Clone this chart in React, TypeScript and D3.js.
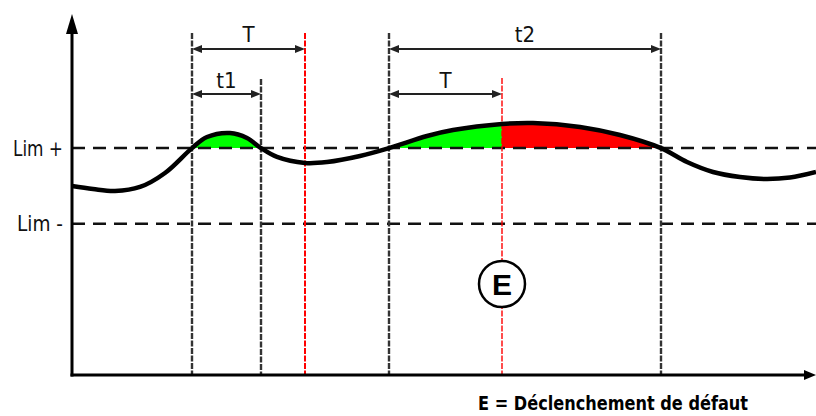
import React from "react";
import * as d3 from "d3";

// time (arbitrary units) and signal value
const curveTimes = [0, 21, 43, 68, 93, 120, 135, 158, 175, 189, 205, 233, 255, 288, 317, 355, 381, 430, 461, 508, 548, 589, 615, 641, 668, 693, 718, 744];
const curveValues = [2.499, 2.459, 2.433, 2.486, 2.671, 3.0, 3.147, 3.2, 3.134, 3.0, 2.883, 2.803, 2.816, 2.896, 3.0, 3.16, 3.239, 3.319, 3.332, 3.28, 3.173, 3.0, 2.816, 2.684, 2.618, 2.592, 2.611, 2.684];

const limPlus = 3;
const limMinus = 2;
const limLabels = ["Lim +", "Lim -"];

// event times
const tStart1 = 120;
const tEnd1 = 189;
const tTrip1 = 233; // tStart1 + T (no trip: red dashed)
const tStart2 = 317;
const tTrip2 = 430; // tStart2 + T
const tEnd2 = 589;

const greenSpans = [[tStart1, tEnd1], [tStart2, tTrip2]];
const redSpans = [[tTrip2, tEnd2]];

const footer = "E = Déclenchement de défaut";

const W = 816;
const H = 416;
const FONT = "'DejaVu Sans Condensed', 'Liberation Sans Narrow', 'Liberation Sans', Arial, sans-serif";

export default function App() {
  const x = d3.scaleLinear().domain([0, 744]).range([72, 816]);
  const y = d3.scaleLinear().domain([0, 4.76]).range([375, 15]);
  const pts: [number, number][] = curveTimes.map((t, i) => [t, curveValues[i]]);
  const curve = d3.curveCatmullRom.alpha(0.5);
  const line = d3
    .line<[number, number]>()
    .x((d) => x(d[0]))
    .y((d) => y(d[1]))
    .curve(curve);
  const area = d3
    .area<[number, number]>()
    .x((d) => x(d[0]))
    .y0(y(limPlus))
    .y1((d) => y(d[1]))
    .curve(curve);
  const areaPath = area(pts) || "";
  const x0 = x(0);
  const y0 = y(0);
  const yTop = y(4.76);

  const vLines = [
    { t: tStart1, top: 33, color: "#333", w: 2.4 },
    { t: tEnd1, top: 79, color: "#333", w: 2.4 },
    { t: tTrip1, top: 33, color: "#ff0000", w: 2 },
    { t: tStart2, top: 33, color: "#333", w: 2.4 },
    { t: tTrip2, top: 78, color: "#ff0000", w: 1.4 },
    { t: tEnd2, top: 33, color: "#333", w: 2.4 },
  ];

  const dims = [
    { a: tStart1, b: tTrip1, yy: 49, label: "T", ly: 42 },
    { a: tStart1, b: tEnd1, yy: 94, label: "t1", ly: 88 },
    { a: tStart2, b: tEnd2, yy: 49, label: "t2", ly: 42 },
    { a: tStart2, b: tTrip2, yy: 94, label: "T", ly: 88 },
  ];

  const cx = x(tTrip2);
  const cy = 284;

  return (
    <svg
      width={W}
      height={H}
      style={{ position: "absolute", left: 0, top: 0, background: "#fff" }}
      fontFamily={FONT}
    >
      <defs>
        {greenSpans.map((s, i) => (
          <clipPath id={`g${i}`} key={i}>
            <rect x={x(s[0])} y={0} width={x(s[1]) - x(s[0])} height={y(limPlus)} />
          </clipPath>
        ))}
        {redSpans.map((s, i) => (
          <clipPath id={`r${i}`} key={i}>
            <rect x={x(s[0])} y={0} width={x(s[1]) - x(s[0])} height={y(limPlus)} />
          </clipPath>
        ))}
      </defs>
      {greenSpans.map((s, i) => (
        <path key={"ga" + i} d={areaPath} fill="#00ff00" clipPath={`url(#g${i})`} />
      ))}
      {redSpans.map((s, i) => (
        <path key={"ra" + i} d={areaPath} fill="#ff0000" clipPath={`url(#r${i})`} />
      ))}
      {/* limit lines */}
      {[limPlus, limMinus].map((v, i) => (
        <g key={"lim" + i}>
          <line x1={x0} x2={W} y1={y(v)} y2={y(v)} stroke="#111" strokeWidth={2.5} strokeDasharray="13,8" />
          <text
            x={63}
            y={y(v) + 7.5}
            textAnchor="end"
            fontSize={21}
            fill="#111"
            textLength={i === 0 ? 50 : 46}
            lengthAdjust="spacingAndGlyphs"
          >
            {limLabels[i]}
          </text>
        </g>
      ))}
      {/* vertical markers */}
      {vLines.map((v, i) => (
        <line
          key={"v" + i}
          x1={x(v.t)}
          x2={x(v.t)}
          y1={v.top}
          y2={y0}
          stroke={v.color}
          strokeWidth={v.w}
          strokeDasharray="6,1.5"
        />
      ))}
      {/* dimension arrows */}
      {dims.map((d, i) => {
        const xa = x(d.a);
        const xb = x(d.b);
        return (
          <g key={"d" + i} fill="#222" stroke="#222">
            <line x1={xa + 4} x2={xb - 4} y1={d.yy} y2={d.yy} strokeWidth={2} />
            <path d={`M${xa},${d.yy} L${xa + 10},${d.yy - 4} L${xa + 10},${d.yy + 4} Z`} stroke="none" />
            <path d={`M${xb},${d.yy} L${xb - 10},${d.yy - 4} L${xb - 10},${d.yy + 4} Z`} stroke="none" />
            <text x={(xa + xb) / 2} y={d.ly} textAnchor="middle" fontSize={22} stroke="none" fill="#111">
              {d.label}
            </text>
          </g>
        );
      })}
      {/* signal curve */}
      <path d={line(pts) || ""} fill="none" stroke="#000" strokeWidth={4.5} strokeLinejoin="round" />
      {/* axes */}
      <line x1={x0} x2={x0} y1={y0 + 1.5} y2={yTop + 16} stroke="#000" strokeWidth={3} />
      <path d={`M${x0},${yTop - 1} L${x0 - 6},${yTop + 19} L${x0 + 6},${yTop + 19} Z`} fill="#000" />
      <line x1={x0 - 1.5} x2={W - 6} y1={y0} y2={y0} stroke="#000" strokeWidth={3} />
      <path d={`M${W},${y0} L${W - 12},${y0 - 5} L${W - 12},${y0 + 5} Z`} fill="#000" />
      {/* trip marker */}
      <circle cx={cx} cy={cy} r={23} fill="#fff" stroke="#000" strokeWidth={2.5} />
      <text x={cx} y={cy + 10.5} textAnchor="middle" fontSize={30} fontWeight="bold" fill="#000" fontFamily="'Liberation Sans', Arial, sans-serif">
        E
      </text>
      <text
        x={478}
        y={410}
        fontSize={20}
        fontWeight="bold"
        fill="#000"
        textLength={270}
        lengthAdjust="spacingAndGlyphs"
      >
        {footer}
      </text>
    </svg>
  );
}
